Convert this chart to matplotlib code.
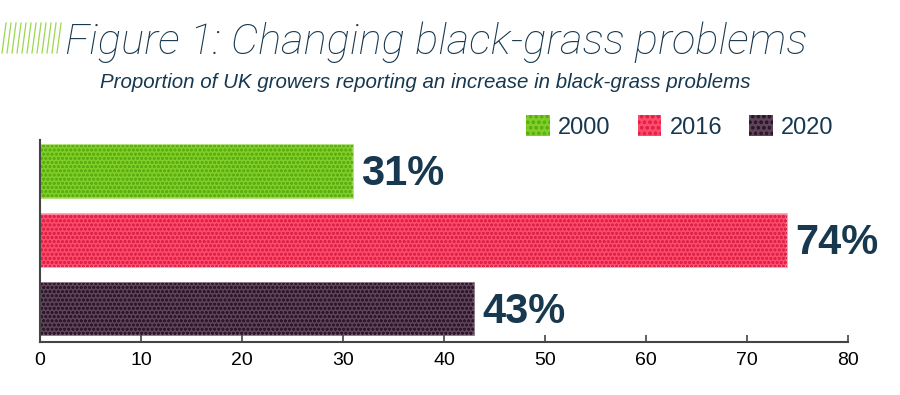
import numpy as np
import matplotlib
matplotlib.use('Agg')
import matplotlib.pyplot as plt
from matplotlib.lines import Line2D
from matplotlib.patches import Patch

plt.rcParams['font.family'] = ['Liberation Sans', 'DejaVu Sans']
plt.rcParams['hatch.linewidth'] = 0.8

# データ
years = ['2000', '2016', '2020']
values = [31, 74, 43]
face_colors = ['#80cf28', '#ff4a6c', '#5e435a']
dot_colors = ['#5cae12', '#dc2448', '#2c1828']
edge_colors = ['#a6dc66', '#ff94a6', '#7d6478']
xticks = [0, 10, 20, 30, 40, 50, 60, 70, 80]

navy = '#17384f'

fig = plt.figure(figsize=(9, 3.95), dpi=100)
ax = fig.add_axes([40 / 900, 1 - 342 / 395, 808 / 900, 202 / 395])

pos = np.arange(len(values))
h = 0.77
ax.barh(pos, values, height=h, color=face_colors, edgecolor=edge_colors, linewidth=1.2)
ax.barh(pos, values, height=h, color='none', edgecolor=dot_colors, linewidth=0, hatch='oooo')

for p, v in zip(pos, values):
    ax.text(v + 0.8, p + 0.04, f'{v}%', va='center', ha='left', fontsize=30,
            fontweight='bold', color=navy)

ax.set_xlim(0, 80)
ax.set_ylim(2.48, -0.46)
ax.set_xticks(xticks)
ax.set_yticks([])
ax.tick_params(axis='x', direction='in', length=5, width=1.2, color='#444444',
               labelsize=14, labelcolor='black', pad=7)
for s in ['top', 'right']:
    ax.spines[s].set_visible(False)
for s in ['left', 'bottom']:
    ax.spines[s].set_color('#444444')
    ax.spines[s].set_linewidth(1.5)

# 凡例
handles = [Patch(facecolor=fc, edgecolor=dc, hatch='ooo', linewidth=0)
           for fc, dc in zip(face_colors, dot_colors)]
leg = fig.legend(handles, years, ncol=3, loc='center right',
                 bbox_to_anchor=(843 / 900, 1 - 127 / 395), frameon=False,
                 fontsize=17, handlelength=1.0, handleheight=1.0,
                 handletextpad=0.35, columnspacing=1.15, borderaxespad=0)
for t in leg.get_texts():
    t.set_color(navy)

# タイトル
fig.text(65 / 900, 1 - 54 / 395, 'Figure 1: Changing black-grass problems',
         fontsize=31.3, style='italic', fontweight='light', color=navy,
         family=['Roboto', 'DejaVu Sans'], va='baseline', ha='left')
fig.text(100 / 900, 1 - 88 / 395,
         'Proportion of UK growers reporting an increase in black-grass problems',
         fontsize=14.8, style='italic', color=navy, va='baseline', ha='left')

# 緑のスラッシュ
for x0 in np.arange(2, 62, 5):
    fig.add_artist(Line2D([x0 / 900, (x0 + 4) / 900], [1 - 53 / 395, 1 - 23 / 395],
                          color='#9ad94e', linewidth=0.9, transform=fig.transFigure))

plt.savefig('out.png', dpi=100)
